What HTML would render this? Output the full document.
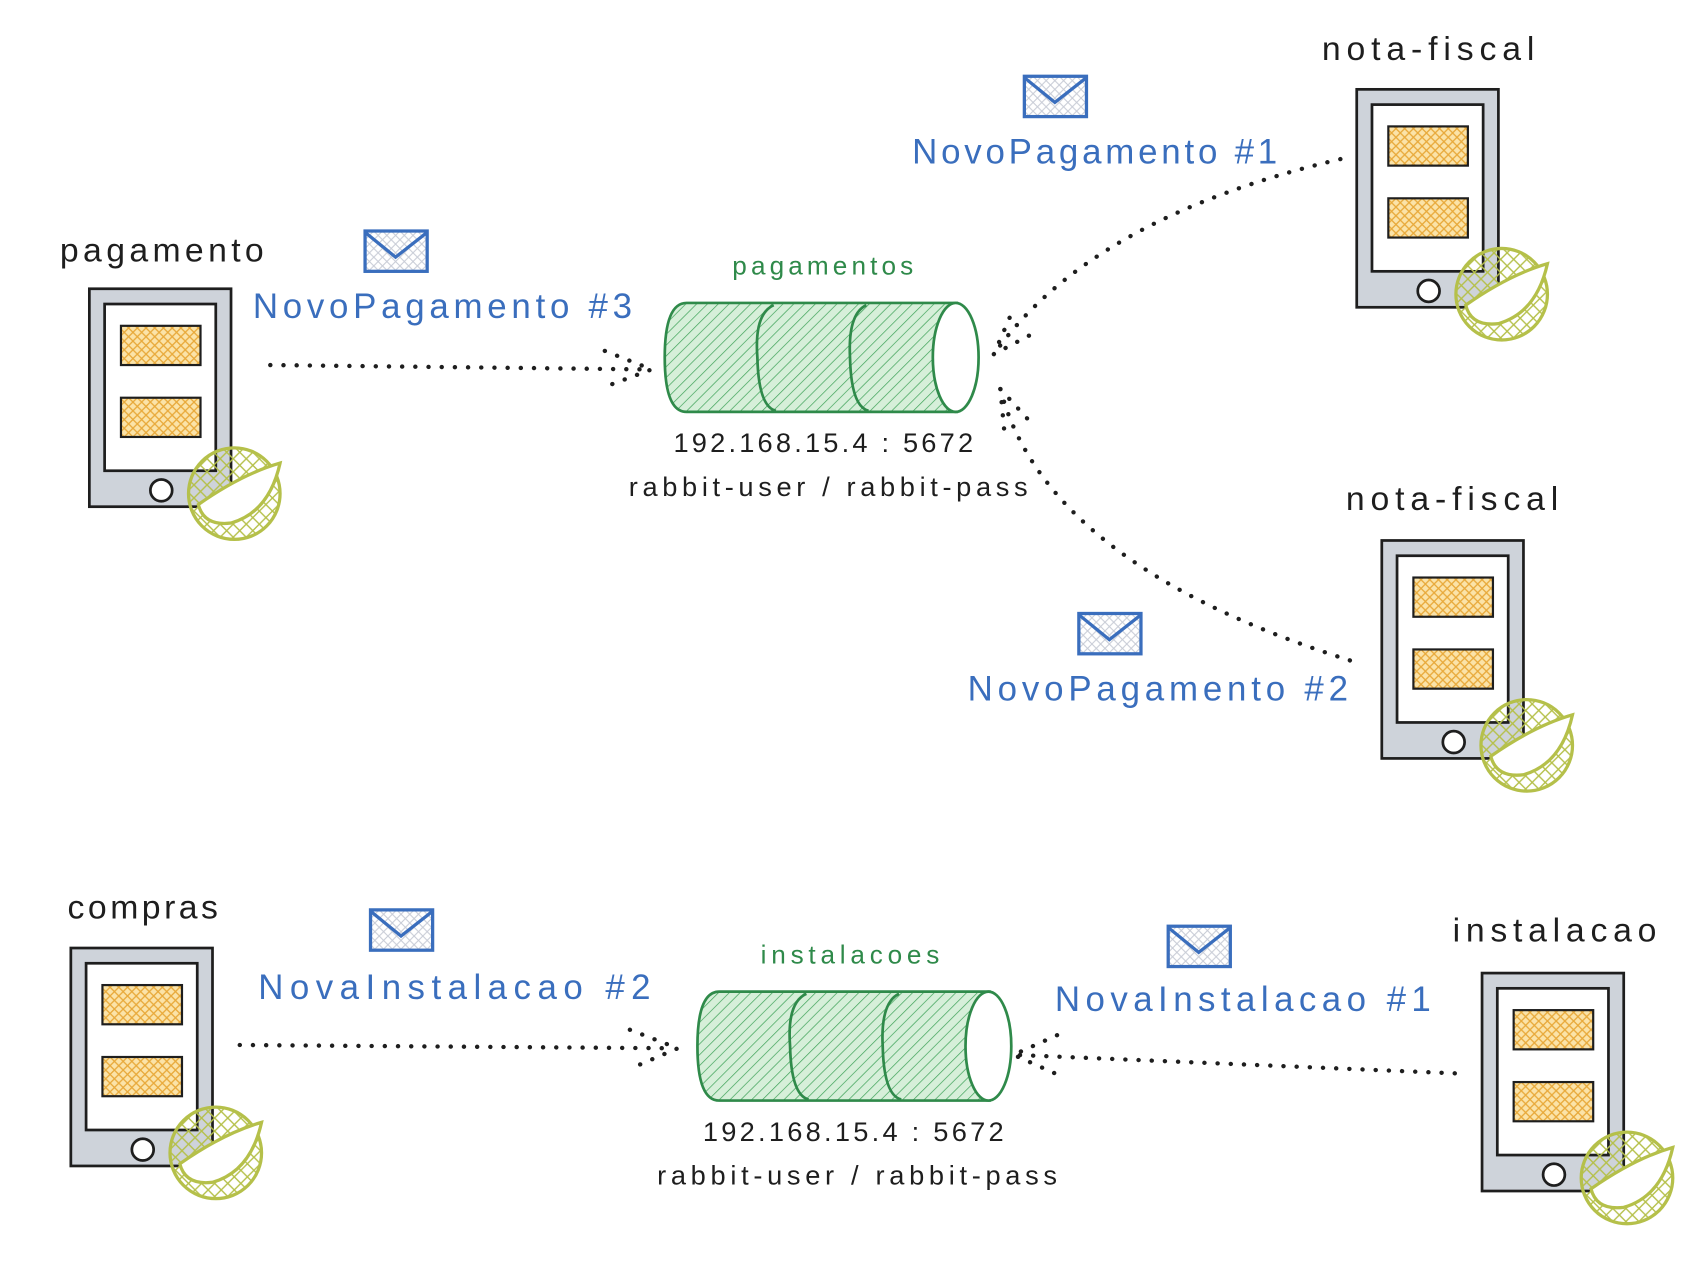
<!DOCTYPE html>
<html><head><meta charset="utf-8"><style>
html,body{margin:0;padding:0;background:#fff;}
svg{display:block;}
text{font-family:"Liberation Sans",sans-serif;}
</style></head><body>
<svg width="1700" height="1288" viewBox="0 0 1560 1182" preserveAspectRatio="none" xmlns="http://www.w3.org/2000/svg">
<defs>
<pattern id="yh" width="8" height="8" patternUnits="userSpaceOnUse">
<rect width="8" height="8" fill="#fbe3a8"/>
<path d="M0 0L8 8M8 0L0 8" stroke="#e8a93a" stroke-width="1.2"/>
</pattern>
<pattern id="gh" width="7" height="7" patternUnits="userSpaceOnUse" patternTransform="rotate(45)">
<rect width="7" height="7" fill="#d6efd9"/>
<line x1="0" y1="0" x2="0" y2="7" stroke="#40a35a" stroke-width="1.3"/>
</pattern>
<pattern id="bh" width="8" height="8" patternUnits="userSpaceOnUse">
<path d="M0 0L8 8M8 0L0 8" stroke="#c8ccd6" stroke-width="1"/>
</pattern>
<pattern id="ch" width="12" height="12" patternUnits="userSpaceOnUse">
<path d="M0 0L12 12M12 0L0 12" stroke="#b5c04a" stroke-width="1.3"/>
</pattern>
<g id="phone">
<rect x="0" y="0" width="130" height="200" fill="#ced3da" stroke="#1e1e1e" stroke-width="2.5"/>
<rect x="14" y="14" width="102" height="153" fill="#fff" stroke="#1e1e1e" stroke-width="2.5"/>
<rect x="29" y="34" width="73" height="36" fill="url(#yh)" stroke="#1e1e1e" stroke-width="2"/>
<rect x="29" y="100" width="73" height="36" fill="url(#yh)" stroke="#1e1e1e" stroke-width="2"/>
<circle cx="66" cy="185" r="10" fill="#fff" stroke="#1e1e1e" stroke-width="2.5"/>
<circle cx="133" cy="188" r="42" fill="url(#ch)" stroke="#b5c04a" stroke-width="3"/>
<path d="M100 198 Q140 170 175 160 Q165 205 130 215 Q105 218 100 198Z" fill="#fff" stroke="#b5c04a" stroke-width="3"/>
</g>
<g id="env">
<rect x="0" y="0" width="57" height="37" fill="url(#bh)" stroke="#3a6ebd" stroke-width="3"/>
<path d="M1 2 L28 24 L56 2" fill="none" stroke="#3a6ebd" stroke-width="3"/>
</g>
<g id="queue">
<path d="M20 0 H268 V100 H20 Q0 100 0 50 Q0 0 20 0Z" fill="url(#gh)" stroke="#2f8a4a" stroke-width="2.5"/>
<path d="M100 2 Q82 10 85 50 Q86 95 102 99" fill="none" stroke="#2f8a4a" stroke-width="2.5"/>
<path d="M185 2 Q168 10 170 50 Q171 95 187 99" fill="none" stroke="#2f8a4a" stroke-width="2.5"/>
<ellipse cx="267" cy="50" rx="21" ry="50" fill="#fff" stroke="#2f8a4a" stroke-width="2.5"/>
</g>
</defs>

<g font-size="31" fill="#1e1e1e" lengthAdjust="spacing">
<text x="55" y="240" textLength="187">pagamento</text>
<text x="1213" y="55" textLength="195">nota-fiscal</text>
<text x="1235" y="468" textLength="195">nota-fiscal</text>
<text x="62" y="843" textLength="138">compras</text>
<text x="1333" y="864" textLength="187">instalacao</text>
</g>

<use href="#phone" x="82" y="265"/>
<use href="#phone" x="1245" y="82"/>
<use href="#phone" x="1268" y="496"/>
<use href="#phone" x="65" y="870"/>
<use href="#phone" x="1360" y="893"/>

<use href="#env" x="335" y="212"/>
<use href="#env" x="940" y="70"/>
<use href="#env" x="990" y="563"/>
<use href="#env" x="340" y="835"/>
<use href="#env" x="1072" y="850"/>

<g font-size="32" fill="#3a6ebd">
<text x="232" y="292" textLength="348">NovoPagamento #3</text>
<text x="837" y="150" textLength="335">NovoPagamento #1</text>
<text x="888" y="643" textLength="349">NovoPagamento #2</text>
<text x="237" y="917" textLength="360">NovaInstalacao #2</text>
<text x="968" y="928" textLength="345">NovaInstalacao #1</text>
</g>

<use href="#queue" x="610" y="278"/>
<use href="#queue" x="640" y="910"/>

<g font-size="24" fill="#2f8a4a">
<text x="672" y="252" textLength="166">pagamentos</text>
<text x="698" y="884" textLength="164">instalacoes</text>
</g>
<g font-size="25" fill="#1e1e1e">
<text x="618" y="415" textLength="275">192.168.15.4 : 5672</text>
<text x="577" y="455" textLength="366">rabbit-user / rabbit-pass</text>
<text x="645" y="1047" textLength="276">192.168.15.4 : 5672</text>
<text x="603" y="1087" textLength="367">rabbit-user / rabbit-pass</text>
</g>

<g fill="none" stroke="#1e1e1e" stroke-width="4" stroke-linecap="round" stroke-dasharray="0.1 12">
<path d="M248 335 L592 339"/>
<path d="M555 322 L598 339 L555 355"/>
<path d="M1230 146 Q1000 200 912 325"/>
<path d="M912 325 L928 288 M912 325 L950 305"/>
<path d="M918 357 Q960 520 1245 608"/>
<path d="M918 357 L948 390 M918 357 L922 400"/>
<path d="M220 959 L615 962"/>
<path d="M578 945 L622 962 L580 980"/>
<path d="M1335 985 L930 968"/>
<path d="M970 950 L930 968 L968 985"/>
</g>
</svg>
</body></html>
